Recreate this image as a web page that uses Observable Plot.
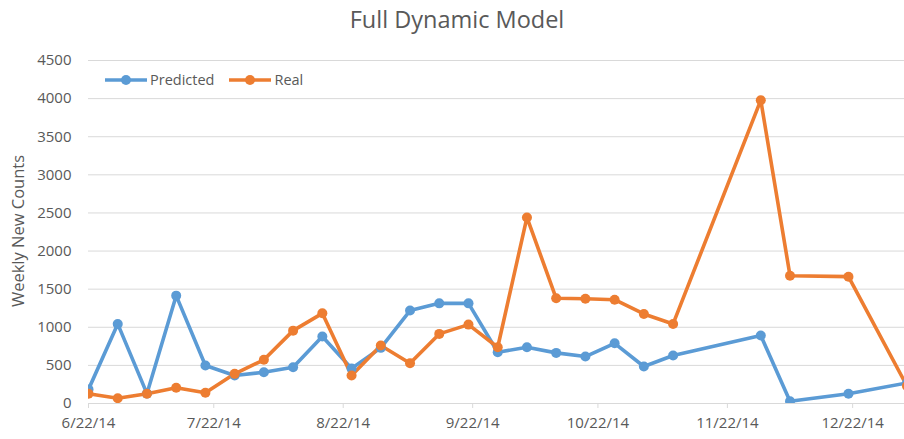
<!DOCTYPE html>
<html>
<head>
<meta charset="utf-8">
<script src="https://cdn.jsdelivr.net/npm/d3@7"></script>
<script src="https://cdn.jsdelivr.net/npm/@observablehq/plot@0.6"></script>
<style>
  html, body { margin: 0; padding: 0; background: #fff; }
  #wrap { position: relative; width: 904px; height: 439px; font-family: "Open Sans", sans-serif; color: #595959; }
  #title { height: 40px; line-height: 38px; text-align: center; font-size: 23.5px; padding-left: 10px; box-sizing: border-box; }
  #legend { position: absolute; left: 105px; top: 70px; display: flex; align-items: center; font-size: 14.5px; }
  #legend .item { display: flex; align-items: center; margin-right: 15px; }
  #legend svg { margin-right: 3px; }
  #ylabel { position: absolute; left: 18px; top: 231px; transform: translate(-50%, -50%) rotate(-90deg); white-space: nowrap; font-size: 16.5px; line-height: 20px; }
</style>
</head>
<body>
<div id="wrap">
  <div id="title">Full Dynamic Model</div>
  <div id="chart"></div>
  <div id="legend"></div>
  <div id="ylabel"></div>
</div>
<script>
// Week dates (gaps where no observation is plotted)
const weeks = [
  "2014-06-22", "2014-06-29", "2014-07-06", "2014-07-13", "2014-07-20",
  "2014-07-27", "2014-08-03", "2014-08-10", "2014-08-17", "2014-08-24",
  "2014-08-31", "2014-09-07", "2014-09-14", "2014-09-21", "2014-09-28",
  "2014-10-05", "2014-10-12", "2014-10-19", "2014-10-26", "2014-11-02",
  "2014-11-09", "2014-11-30", "2014-12-07", "2014-12-21", "2015-01-04"
];
const predicted = [185, 1044, 130, 1415, 498, 367, 410, 476, 878, 460,
  730, 1219, 1314, 1314, 672, 738, 664, 616, 790, 485,
  629, 891, 30, 127, 270];
const real = [127, 70, 127, 206, 140, 389, 573, 956, 1183, 367,
  760, 528, 913, 1035, 738, 2441, 1380, 1375, 1362, 1175,
  1044, 3979, 1677, 1664, 230];
const seriesNames = ["Predicted", "Real"];
const seriesColors = ["#5b9bd5", "#ed7d31"];
const xTickDates = ["2014-06-22", "2014-07-22", "2014-08-22", "2014-09-22", "2014-10-22", "2014-11-22", "2014-12-22"];
const yTicks = [0, 500, 1000, 1500, 2000, 2500, 3000, 3500, 4000, 4500];
const xDomain = ["2014-06-22", "2015-01-03T10:00"];
const yLabel = "Weekly New Counts";

const parse = s => new Date(s + (s.includes("T") ? ":00Z" : "T00:00:00Z"));
const rows = [];
weeks.forEach((w, i) => {
  rows.push({date: parse(w), value: predicted[i], series: seriesNames[0]});
  rows.push({date: parse(w), value: real[i], series: seriesNames[1]});
});

const chart = Plot.plot({
  width: 904,
  height: 399,
  marginTop: 20,
  marginBottom: 36,
  marginLeft: 88,
  marginRight: 0,
  style: {fontFamily: "Open Sans, sans-serif", fontSize: "15px", color: "#595959", background: "#fff", overflow: "visible"},
  x: {type: "utc", domain: xDomain.map(parse)},
  y: {domain: [0, 4500]},
  color: {domain: seriesNames, range: seriesColors},
  marks: [
    Plot.gridY(yTicks, {stroke: "#d9d9d9", strokeOpacity: 1, strokeWidth: 1}),
    Plot.ruleY([0], {stroke: "#d9d9d9", strokeWidth: 1.2}),
    Plot.axisY(yTicks, {tickSize: 0, tickPadding: 17, fill: "#595959", tickFormat: d => String(d), label: null}),
    Plot.axisX(xTickDates.map(parse), {tickFormat: d3.utcFormat("%-m/%-d/%y"), tickSize: 5, tickPadding: 9, stroke: "#d9d9d9", fill: "#595959", label: null}),
    Plot.line(rows, {x: "date", y: "value", z: "series", stroke: "series", strokeWidth: 3.6, clip: true}),
    Plot.dot(rows, {x: "date", y: "value", fill: "series", r: 5, stroke: "none", clip: true})
  ]
});
document.getElementById("chart").appendChild(chart);
document.getElementById("ylabel").textContent = yLabel;

// Legend
const legend = document.getElementById("legend");
seriesNames.forEach((name, i) => {
  const item = document.createElement("div");
  item.className = "item";
  item.innerHTML = `<svg width="42" height="12"><line x1="0" x2="42" y1="6" y2="6" stroke="${seriesColors[i]}" stroke-width="3.6"/><circle cx="21" cy="6" r="5" fill="${seriesColors[i]}"/></svg><span>${name}</span>`;
  legend.appendChild(item);
});
</script>
</body>
</html>
